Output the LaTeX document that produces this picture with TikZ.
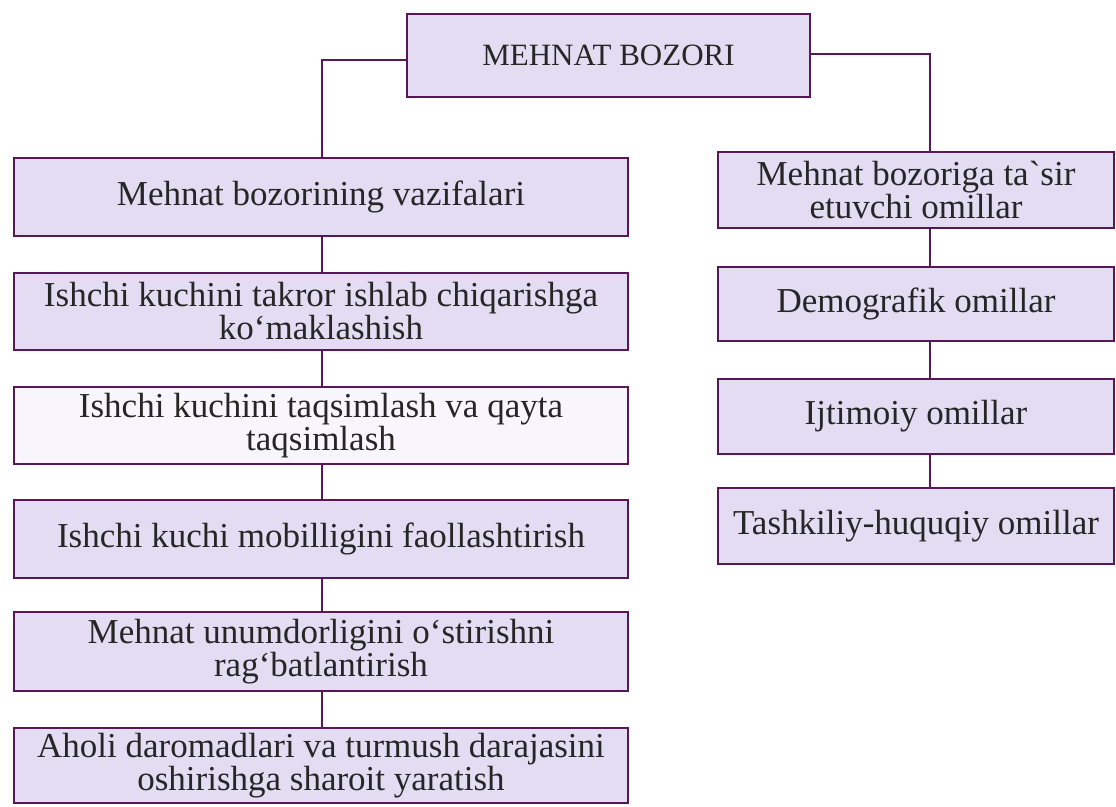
\documentclass[tikz,border=0pt]{standalone}
\usepackage{fontspec}
\setmainfont{Liberation Serif}[Ligatures=TeXOff]
\usetikzlibrary{calc}
\definecolor{bordc}{RGB}{88,24,88}
\definecolor{lav}{RGB}{228,220,242}
\definecolor{lavw}{RGB}{248,246,252}
\tikzset{
  box/.style={draw=bordc, line width=2.8pt, fill=lav, rectangle, align=center, inner sep=0pt,
    font=\fontsize{35}{33}\selectfont, text=black!85},
  lbox/.style={box, minimum width=614pt},
  rbox/.style={box, minimum width=396pt},
  conn/.style={draw=bordc, line width=2.2pt}
}
\begin{document}
\begin{tikzpicture}[x=1pt,y=-1pt]
\useasboundingbox (0,0) rectangle (1116,806);
\fill[white] (0,0) rectangle (1116,806);
\node[box, minimum width=403pt, minimum height=83pt, font=\fontsize{31}{33}\selectfont] (top) at (608.5,55.5) {MEHNAT BOZORI};
\node[lbox, minimum height=78pt] (l1) at (321,197) {Mehnat bozorining vazifalari};
\node[lbox, minimum height=77pt] (l2) at (321,311.5) {Ishchi kuchini takror ishlab chiqarishga\\ko‘maklashish};
\node[lbox, minimum height=77pt, fill=lavw] (l3) at (321,425.5) {Ishchi kuchini taqsimlash va qayta\\taqsimlash};
\node[lbox, minimum height=78pt] (l4) at (321,539) {Ishchi kuchi mobilligini faollashtirish};
\node[lbox, minimum height=79pt] (l5) at (321,651.5) {Mehnat unumdorligini o‘stirishni\\rag‘batlantirish};
\node[lbox, minimum height=75pt] (l6) at (321,765.5) {Aholi daromadlari va turmush darajasini\\oshirishga sharoit yaratish};
\node[rbox, minimum height=76pt] (r1) at (916,190) {Mehnat bozoriga ta`sir\\etuvchi omillar};
\node[rbox, minimum height=74pt] (r2) at (916,304) {Demografik omillar};
\node[rbox, minimum height=75pt] (r3) at (916,416.5) {Ijtimoiy omillar};
\node[rbox, minimum height=76pt] (r4) at (916,526) {Tashkiliy-huquqiy omillar};
\coordinate (lv) at (322,60);
\coordinate (rv) at (930,54);
\draw[conn] (top.west |- lv) -- (lv) -- (l1.north -| lv);
\draw[conn] (top.east |- rv) -- (rv) -- (r1.north -| rv);
\draw[conn] (l1.south -| lv) -- (l2.north -| lv);
\draw[conn] (l2.south -| lv) -- (l3.north -| lv);
\draw[conn] (l3.south -| lv) -- (l4.north -| lv);
\draw[conn] (l4.south -| lv) -- (l5.north -| lv);
\draw[conn] (l5.south -| lv) -- (l6.north -| lv);
\draw[conn] (r1.south -| rv) -- (r2.north -| rv);
\draw[conn] (r2.south -| rv) -- (r3.north -| rv);
\draw[conn] (r3.south -| rv) -- (r4.north -| rv);
\end{tikzpicture}
\end{document}
